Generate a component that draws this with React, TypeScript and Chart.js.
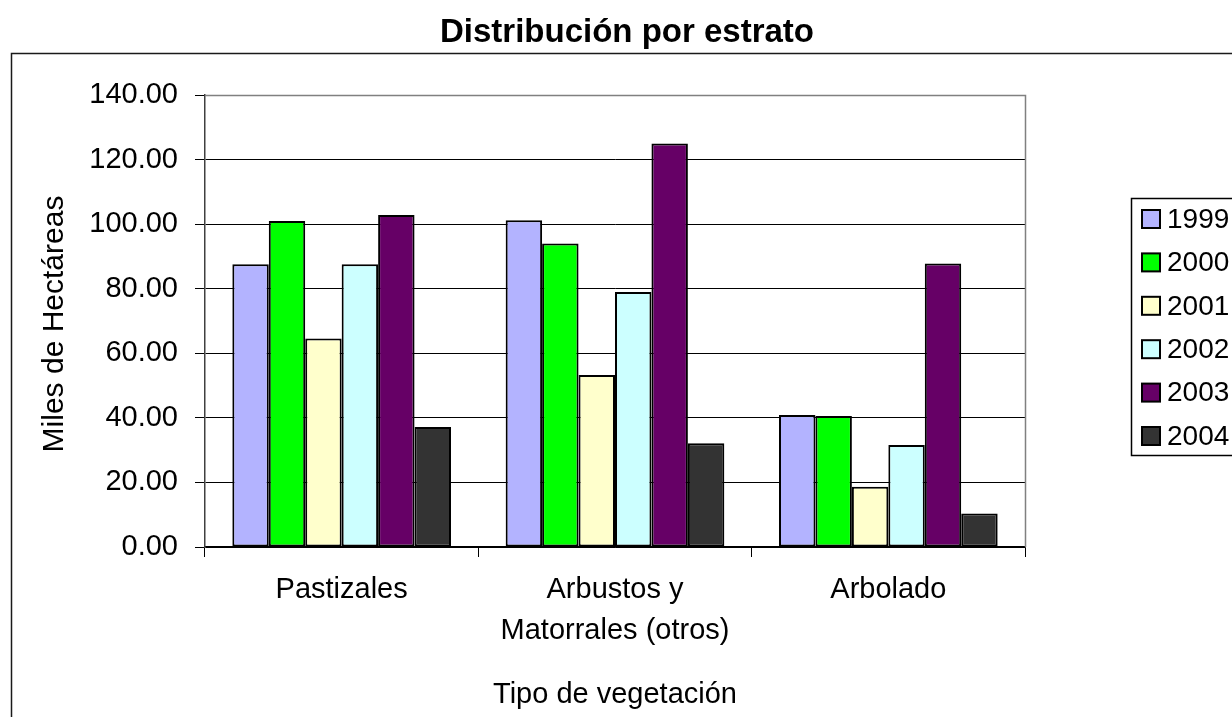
import React, { useEffect, useRef } from "react";
import { Chart, registerables } from "chart.js";

Chart.register(...registerables);

const chartTitle = "Distribución por estrato";
const yAxisTitle = "Miles de Hectáreas";
const xAxisTitle = "Tipo de vegetación";
const categories: string[][] = [["Pastizales"], ["Arbustos y", "Matorrales (otros)"], ["Arbolado"]];
const seriesLabels = ["1999", "2000", "2001", "2002", "2003", "2004"];
const s1999 = [87.6, 101.2, 40.9];
const s2000 = [101.0, 94.0, 40.6];
const s2001 = [64.6, 53.3, 18.7];
const s2002 = [87.6, 79.0, 31.6];
const s2003 = [102.8, 125.0, 87.8];
const s2004 = [37.2, 32.1, 10.4];
const seriesColors = ["#B3B3FF", "#00FF00", "#FFFFCC", "#CCFFFF", "#660066", "#333333"];
const yMin = 0;
const yMax = 140;
const yStep = 20;

const FONT = "'Liberation Sans', Arial, Helvetica, sans-serif";

const decorPlugin = {
  id: "decor",
  beforeDraw(chart: any) {
    const { ctx, width, height } = chart;
    ctx.save();
    ctx.fillStyle = "#ffffff";
    ctx.fillRect(0, 0, width, height);
    ctx.restore();
  },
  afterDraw(chart: any) {
    const { ctx, chartArea } = chart;
    ctx.save();
    // plot area border (top and right)
    ctx.strokeStyle = "#808080";
    ctx.lineWidth = 1.5;
    ctx.beginPath();
    ctx.moveTo(chartArea.left, chartArea.top + 0.5);
    ctx.lineTo(chartArea.right + 0.5, chartArea.top + 0.5);
    ctx.lineTo(chartArea.right + 0.5, chartArea.bottom);
    ctx.stroke();

    // outer chart border (extends beyond the visible canvas)
    ctx.strokeStyle = "#1a1a1a";
    ctx.lineWidth = 1.5;
    ctx.strokeRect(11.5, 53.5, 1400, 900);

    // title
    ctx.fillStyle = "#000";
    ctx.font = `bold 33px ${FONT}`;
    ctx.textAlign = "center";
    ctx.textBaseline = "alphabetic";
    ctx.fillText(chartTitle, 627, 42);

    // y axis title
    ctx.save();
    ctx.font = `30px ${FONT}`;
    ctx.translate(63, (chartArea.top + chartArea.bottom) / 2 + 3);
    ctx.rotate(-Math.PI / 2);
    ctx.textAlign = "center";
    ctx.textBaseline = "alphabetic";
    ctx.fillText(yAxisTitle, 0, 0);
    ctx.restore();

    // x axis title
    ctx.font = `29px ${FONT}`;
    ctx.textAlign = "center";
    ctx.textBaseline = "middle";
    ctx.fillText(xAxisTitle, (chartArea.left + chartArea.right) / 2, 695);

    // legend
    const boxLeft = 1131;
    const boxTop = 198;
    const boxBottom = 455;
    ctx.strokeStyle = "#000";
    ctx.lineWidth = 1.5;
    ctx.fillStyle = "#fff";
    ctx.fillRect(boxLeft, boxTop, 300, boxBottom - boxTop);
    ctx.strokeRect(boxLeft + 0.5, boxTop + 0.5, 300, boxBottom - boxTop);
    const ds = chart.data.datasets;
    const rowH = 43.4;
    const firstY = 219;
    ctx.font = `28px ${FONT}`;
    ctx.textAlign = "left";
    ctx.textBaseline = "middle";
    ds.forEach((d: any, i: number) => {
      const cy = firstY + i * rowH;
      ctx.fillStyle = d.backgroundColor;
      ctx.fillRect(1142, cy - 9, 18, 18);
      ctx.lineWidth = 2;
      ctx.strokeStyle = "#000";
      ctx.strokeRect(1142, cy - 9, 18, 18);
      ctx.fillStyle = "#000";
      ctx.fillText(d.label, 1167, cy + 1);
    });
    ctx.restore();
  },
};

export default function App() {
  const ref = useRef<HTMLCanvasElement | null>(null);

  useEffect(() => {
    if (!ref.current) return;
    const values = [s1999, s2000, s2001, s2002, s2003, s2004];
    const chart = new Chart(ref.current, {
      type: "bar",
      data: {
        labels: categories,
        datasets: seriesLabels.map((label, i) => ({
          label,
          data: values[i],
          backgroundColor: seriesColors[i],
          borderColor: "#000000",
          borderWidth: 2,
          borderSkipped: false,
          categoryPercentage: 0.8,
          barPercentage: 1.0,
        })),
      },
      options: {
        animation: false,
        responsive: false,
        events: [],
        layout: { padding: { top: 95, right: 207, bottom: 0, left: 0 } },
        plugins: {
          legend: { display: false },
          title: { display: false },
          tooltip: { enabled: false },
        },
        scales: {
          x: {
            offset: true,
            afterFit(scale: any) {
              scale.height = 170;
            },
            grid: {
              offset: true,
              drawOnChartArea: false,
              drawTicks: true,
              tickLength: 10,
              color: "#000000",
              lineWidth: 1,
            },
            border: { color: "#000000", width: 1.5 },
            ticks: {
              color: "#000000",
              font: { family: FONT, size: 29, lineHeight: 1.42 },
              padding: 12,
              maxRotation: 0,
              autoSkip: false,
            },
          },
          y: {
            min: yMin,
            max: yMax,
            afterFit(scale: any) {
              scale.width = 205;
            },
            grid: {
              color: "#000000",
              lineWidth: 1,
              tickLength: 10,
              drawTicks: true,
            },
            border: { color: "#404040", width: 1.5 },
            ticks: {
              stepSize: yStep,
              color: "#000000",
              font: { family: FONT, size: 29 },
              padding: 17,
              callback: (v: any) => Number(v).toFixed(2),
            },
          },
        },
      },
      plugins: [decorPlugin],
    });
    return () => chart.destroy();
  }, []);

  return (
    <div style={{ position: "fixed", left: 0, top: 0, width: 1232, height: 717, overflow: "hidden", background: "#fff" }}>
      <canvas ref={ref} width={1232} height={717} style={{ display: "block" }} />
    </div>
  );
}
